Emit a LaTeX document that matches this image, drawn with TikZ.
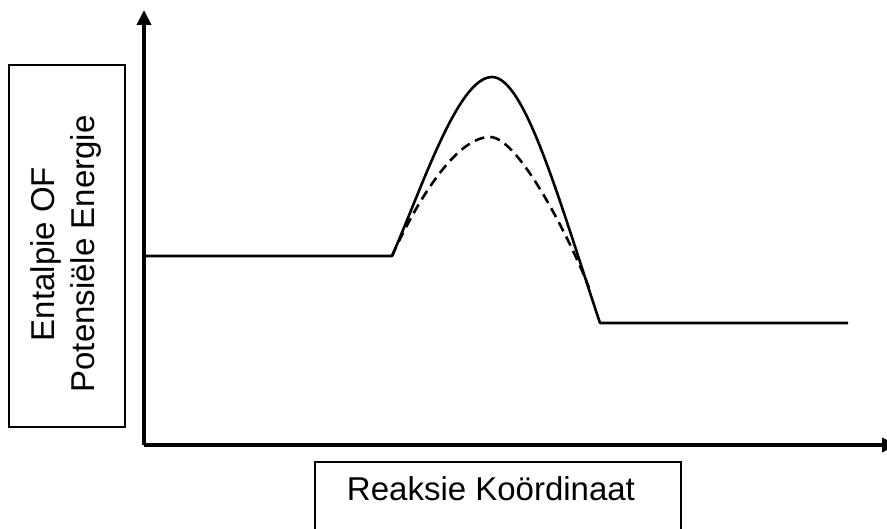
\documentclass[tikz,border=0pt]{standalone}
\usepackage{fontspec}
\setmainfont{Liberation Sans}
\usetikzlibrary{arrows.meta}

\begin{document}
\begin{tikzpicture}[
    x=1pt, y=-1pt,
    axis/.style={-{Triangle[length=15pt, width=14pt]}, line width=3.5pt},
    curve/.style={line width=2.6pt, line join=round},
    label/.style={draw, line width=2pt, inner sep=0pt},
    labeltext/.style={align=center, font=\fontsize{33}{40}\selectfont}
]
\useasboundingbox (0,0) rectangle (887,529);

% ── Assen ─────────────────────────────────────────────
\coordinate (origin) at (144, 445);
\coordinate (ytop) at (144, 10);
\coordinate (xend) at (897, 445);
\draw[axis] (origin) -- (ytop);
\draw[axis] (origin) -- (xend);

% ── Byskrifte ─────────────────────────────────────────
\node[label, minimum width=116pt, minimum height=362pt] (ylabel) at (67, 246) {};
\node[labeltext, rotate=90] (ytext) at (66, 254) {Entalpie OF\\Potensiële Energie};
\node[label, minimum width=366pt, minimum height=80pt] (xlabel) at (498, 502) {};
\node[labeltext] (xtext) at (491, 489) {Reaksie Koördinaat};

% ── Energiekrommes ────────────────────────────────────
\coordinate (reactant) at (144, 256);
\coordinate (start) at (392, 256);
\coordinate (peak) at (492, 77);
\coordinate (peakcat) at (490, 137);
\coordinate (merge) at (589, 288);
\coordinate (finish) at (600, 323);
\coordinate (product) at (848, 323);

\draw[curve] (reactant) -- (start)
    .. controls (422, 188) and (458, 77) .. (peak)
    .. controls (525, 77) and (560, 203) .. (finish) -- (product);
\draw[curve, dash pattern=on 10pt off 6pt] (start)
    .. controls (415, 205) and (455, 137) .. (peakcat)
    .. controls (520, 137) and (575, 250) .. (merge);

\end{tikzpicture}
\end{document}
